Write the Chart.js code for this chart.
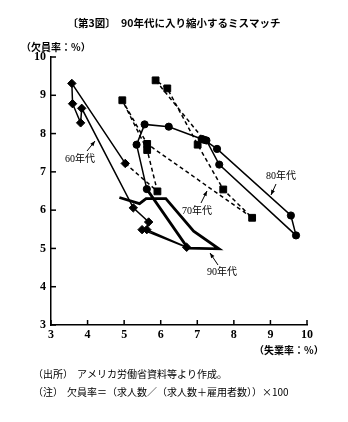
<!DOCTYPE html>
<html>
<head>
<meta charset="utf-8">
<script src="https://cdn.jsdelivr.net/npm/chart.js@4/dist/chart.umd.min.js"></script>
<style>
  html, body { margin: 0; padding: 0; background: #fff; }
  #wrap { position: relative; width: 348px; height: 422px; }
</style>
</head>
<body>
<div id="wrap"><canvas id="c" width="348" height="422"></canvas></div>
<script>
// Unemployment rate (x, %) and vacancy rate (y, %) by decade, in path order
const unemp60 = [5.49, 6.71, 5.62, 5.67, 5.25, 3.84, 3.81, 3.59, 3.57, 5.03];
const vacancy60 = [5.49, 5.03, 5.49, 5.69, 6.06, 8.66, 8.28, 8.78, 9.31, 7.22];

const unemp70 = [5.91, 5.63, 4.95, 5.63, 8.50, 7.71, 7.01, 6.18, 5.86];
const vacancy70 = [6.49, 7.57, 8.87, 7.73, 5.80, 6.54, 7.71, 9.18, 9.39];

const unemp80 = [7.18, 7.54, 9.56, 9.70, 7.60, 7.25, 7.12, 6.22, 5.56, 5.34];
const vacancy80 = [7.84, 7.60, 5.86, 5.34, 7.19, 7.82, 7.86, 8.18, 8.24, 7.71];

const unemp90 = [5.62, 6.74, 7.59, 6.90, 6.14, 5.60, 5.42, 4.87];
const vacancy90 = [6.55, 5.01, 4.99, 5.45, 6.30, 6.30, 6.17, 6.33];

const xTicks = [3, 4, 5, 6, 7, 8, 9, 10];
const yTicks = [3, 4, 5, 6, 7, 8, 9, 10];

const pts = (xs, ys) => xs.map((x, i) => ({ x: x, y: ys[i] }));
const p60 = pts(unemp60, vacancy60);
const p70 = pts(unemp70, vacancy70);
const p80 = pts(unemp80, vacancy80);
const p90 = pts(unemp90, vacancy90);

// 70s dashed path runs from the last 60s point to the first 80s point
const path70 = [p60[p60.length - 1], ...p70, p80[0]];
// 80s path ends at the first 90s point (drawn as a circle)
const path80 = [...p80, p90[0]];

const JP = '"Noto Sans CJK JP", "Noto Sans", sans-serif';
const NUM = '"Liberation Serif", "Noto Sans CJK JP", serif';

const decorations = {
  id: 'decorations',
  afterDraw(chart) {
    const ctx = chart.ctx;
    const xs = chart.scales.x, ys = chart.scales.y;
    const a = chart.chartArea;
    ctx.save();
    ctx.strokeStyle = '#000';
    ctx.lineWidth = 1.5;
    // inward tick marks
    xTicks.forEach(v => {
      const px = xs.getPixelForValue(v);
      ctx.beginPath(); ctx.moveTo(px, a.bottom); ctx.lineTo(px, a.bottom - 5); ctx.stroke();
    });
    yTicks.forEach(v => {
      const py = ys.getPixelForValue(v);
      ctx.beginPath(); ctx.moveTo(a.left, py); ctx.lineTo(a.left + 5, py); ctx.stroke();
    });

    ctx.fillStyle = '#000';
    // title
    ctx.textBaseline = 'middle';
    ctx.textAlign = 'center';
    ctx.font = 'bold 10.5px ' + JP;
    ctx.fillText('〔第3図〕　90年代に入り縮小するミスマッチ', 174, 23);

    // axis units
    ctx.font = 'bold 10px ' + JP;
    ctx.textAlign = 'left';
    ctx.fillText('（欠員率：%）', 21, 47);
    ctx.fillText('（失業率：%）', 254, 350);

    // notes
    ctx.font = '10px ' + JP;
    ctx.fillText('（出所）', 33, 374);
    ctx.fillText('アメリカ労働省資料等より作成。', 77, 374);
    ctx.fillText('（注）', 33, 392);
    ctx.fillText('欠員率＝（求人数／（求人数＋雇用者数））×100', 67, 392);

    // decade labels with pointer arrows
    const labels = [
      { t: '60年代', x: 80, y: 159, from: [87, 151], to: [95, 141] },
      { t: '70年代', x: 197, y: 211, from: [201, 203], to: [207, 191] },
      { t: '80年代', x: 281, y: 176, from: [276, 184], to: [271, 195] },
      { t: '90年代', x: 222, y: 272, from: [218, 265], to: [210, 253] }
    ];
    ctx.font = '10px ' + NUM;
    ctx.textAlign = 'center';
    labels.forEach(l => {
      ctx.fillText(l.t, l.x, l.y);
      const [x0, y0] = l.from, [x1, y1] = l.to;
      ctx.lineWidth = 1;
      ctx.beginPath(); ctx.moveTo(x0, y0); ctx.lineTo(x1, y1); ctx.stroke();
      const ang = Math.atan2(y1 - y0, x1 - x0);
      const h = 5, w = 2;
      ctx.beginPath();
      ctx.moveTo(x1, y1);
      ctx.lineTo(x1 - h * Math.cos(ang) + w * Math.sin(ang), y1 - h * Math.sin(ang) - w * Math.cos(ang));
      ctx.lineTo(x1 - h * Math.cos(ang) - w * Math.sin(ang), y1 - h * Math.sin(ang) + w * Math.cos(ang));
      ctx.closePath(); ctx.fill();
    });
    ctx.restore();
  }
};

const endless = n => ctx => (ctx.dataIndex === 0 || ctx.dataIndex === n - 1) ? 0 : 4.8;

new Chart(document.getElementById('c'), {
  type: 'scatter',
  data: {
    datasets: [
      {
        label: '90年代', data: p90, showLine: true,
        borderColor: '#000', borderWidth: 2.8, pointRadius: 0,
        borderJoinStyle: 'miter'
      },
      {
        label: '60年代', data: p60, showLine: true,
        borderColor: '#000', borderWidth: 1.5,
        pointStyle: 'rectRot', pointRadius: 4.2,
        pointBackgroundColor: '#000', pointBorderColor: '#000', pointBorderWidth: 1
      },
      {
        label: '70年代', data: path70, showLine: true,
        borderColor: '#000', borderWidth: 1.5, borderDash: [4, 3],
        pointStyle: 'rect', pointRadius: endless(path70.length),
        pointBackgroundColor: '#000', pointBorderColor: '#000', pointBorderWidth: 1
      },
      {
        label: '80年代', data: path80, showLine: true,
        borderColor: '#000', borderWidth: 1.5,
        pointStyle: 'circle', pointRadius: 3.6,
        pointBackgroundColor: '#000', pointBorderColor: '#000', pointBorderWidth: 1
      }
    ]
  },
  options: {
    responsive: false,
    animation: false,
    devicePixelRatio: 1,
    layout: { padding: { left: 0, right: 41, top: 57, bottom: 0 } },
    plugins: { legend: { display: false }, tooltip: { enabled: false } },
    elements: { line: { tension: 0 } },
    scales: {
      x: {
        type: 'linear', min: 3, max: 10,
        afterFit: s => { s.height = 97; },
        afterBuildTicks: s => { s.ticks = xTicks.map(v => ({ value: v })); },
        grid: { display: false, drawTicks: false },
        border: { display: true, color: '#000', width: 1.5 },
        ticks: { color: '#000', padding: 3, font: { family: NUM, size: 12, weight: 'bold' } }
      },
      y: {
        type: 'linear', min: 3, max: 10,
        afterFit: s => { s.width = 51; },
        afterBuildTicks: s => { s.ticks = yTicks.map(v => ({ value: v })); },
        grid: { display: false, drawTicks: false },
        border: { display: true, color: '#000', width: 1.5 },
        ticks: { color: '#000', padding: 5, font: { family: NUM, size: 12, weight: 'bold' } }
      }
    }
  },
  plugins: [decorations]
});
</script>
</body>
</html>
